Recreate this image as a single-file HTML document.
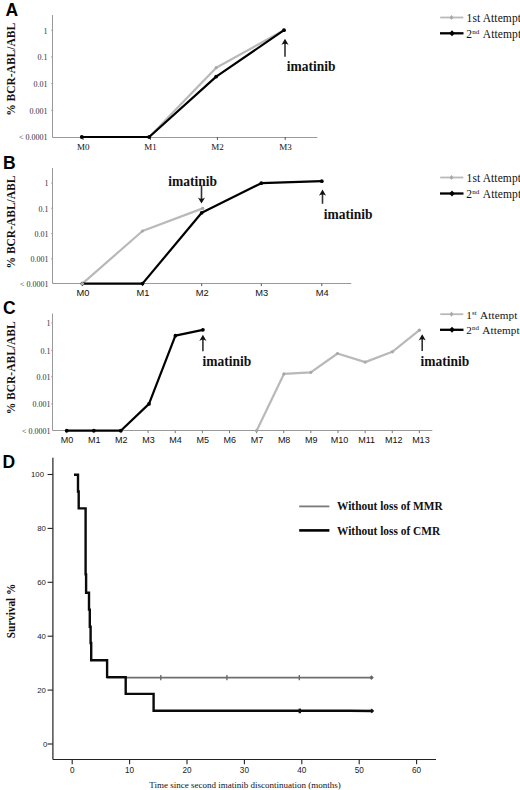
<!DOCTYPE html>
<html><head><meta charset="utf-8"><style>
html,body{margin:0;padding:0;background:#fff;}
body{width:520px;height:790px;overflow:hidden;}
svg{display:block;}
</style></head><body>
<svg width="520" height="790" viewBox="0 0 520 790">
<rect width="520" height="790" fill="#fff"/>
<text x="5.6" y="16.2" font-family='"Liberation Sans", sans-serif' font-size="17.5" font-weight="bold" text-anchor="start" fill="#000" >A</text>
<text transform="translate(15.0,69.4) rotate(-90) scale(0.9091,1)" x="0" y="0" font-family='"Liberation Serif", serif' font-size="12.65" font-weight="bold" text-anchor="middle" fill="#111">% BCR-ABL/ABL</text>
<line x1="52.5" y1="15" x2="52.5" y2="137.5" stroke="#999" stroke-width="1" />
<line x1="52.5" y1="137.5" x2="317.3" y2="137.5" stroke="#999" stroke-width="1" />
<line x1="51.0" y1="30.2" x2="52.5" y2="30.2" stroke="#999" stroke-width="0.8" />
<line x1="51.0" y1="56.9" x2="52.5" y2="56.9" stroke="#999" stroke-width="0.8" />
<line x1="51.0" y1="83.6" x2="52.5" y2="83.6" stroke="#999" stroke-width="0.8" />
<line x1="51.0" y1="110.3" x2="52.5" y2="110.3" stroke="#999" stroke-width="0.8" />
<line x1="83.0" y1="137" x2="83.0" y2="140" stroke="#555" stroke-width="1" />
<line x1="150.39999999999998" y1="137" x2="150.39999999999998" y2="140" stroke="#555" stroke-width="1" />
<line x1="217.39999999999998" y1="137" x2="217.39999999999998" y2="140" stroke="#555" stroke-width="1" />
<line x1="285.2" y1="137" x2="285.2" y2="140" stroke="#555" stroke-width="1" />
<text x="47.6" y="33.6" font-family='"Liberation Serif", serif' font-size="8" font-weight="normal" text-anchor="end" fill="#333" >1</text>
<text x="47.6" y="60.3" font-family='"Liberation Serif", serif' font-size="8" font-weight="normal" text-anchor="end" fill="#333" >0.1</text>
<text x="47.6" y="87.0" font-family='"Liberation Serif", serif' font-size="8" font-weight="normal" text-anchor="end" fill="#333" >0.01</text>
<text x="47.6" y="113.7" font-family='"Liberation Serif", serif' font-size="8" font-weight="normal" text-anchor="end" fill="#333" >0.001</text>
<text x="47.6" y="140.4" font-family='"Liberation Serif", serif' font-size="8" font-weight="normal" text-anchor="end" fill="#333" >&lt; 0.0001</text>
<text x="83.2" y="149.5" font-family='"Liberation Serif", serif' font-size="9" font-weight="normal" text-anchor="middle" fill="#111" >M0</text>
<text x="150.6" y="149.5" font-family='"Liberation Serif", serif' font-size="9" font-weight="normal" text-anchor="middle" fill="#111" >M1</text>
<text x="217.6" y="149.5" font-family='"Liberation Serif", serif' font-size="9" font-weight="normal" text-anchor="middle" fill="#111" >M2</text>
<text x="285.4" y="149.5" font-family='"Liberation Serif", serif' font-size="9" font-weight="normal" text-anchor="middle" fill="#111" >M3</text>
<polyline points="81.8,137 149.2,137 216.2,67.7 284.0,30.2" fill="none" stroke="#b9b9b9" stroke-width="2.2" stroke-linejoin="round" stroke-linecap="round"/>
<circle cx="81.8" cy="137" r="1.6" fill="#a8a8a8"/>
<circle cx="149.2" cy="137" r="1.6" fill="#a8a8a8"/>
<circle cx="216.2" cy="67.7" r="1.6" fill="#a8a8a8"/>
<circle cx="284.0" cy="30.2" r="1.6" fill="#a8a8a8"/>
<polyline points="81.8,137 149.2,137 216.2,76.6 284.0,30.2" fill="none" stroke="#000" stroke-width="2.2" stroke-linejoin="round" stroke-linecap="round"/>
<circle cx="81.8" cy="137" r="1.9" fill="#000"/>
<circle cx="149.2" cy="137" r="1.9" fill="#000"/>
<circle cx="216.2" cy="76.6" r="1.9" fill="#000"/>
<circle cx="284.0" cy="30.2" r="1.9" fill="#000"/>
<line x1="285.0" y1="56.7" x2="285.0" y2="43.040000000000006" stroke="#333" stroke-width="1.6" />
<path d="M285.0,38.7 L288.6,44.900000000000006 Q285.0,42.42 281.4,44.900000000000006 Z" fill="#111"/>
<text transform="translate(286.8,70.8) scale(0.8772,1)" x="0" y="0" font-family='"Liberation Serif", serif' font-size="15.39" font-weight="bold" text-anchor="start" fill="#111" >imatinib</text>
<line x1="440.2" y1="17.5" x2="463.3" y2="17.5" stroke="#b9b9b9" stroke-width="1.8" />
<path d="M451.5,14.9 L453.5,17.5 L451.5,20.1 L449.5,17.5 Z" fill="#aaa"/>
<line x1="440.0" y1="33.3" x2="463.5" y2="33.3" stroke="#000" stroke-width="2.3" />
<path d="M452.0,30.299999999999997 L454.8,33.3 L452.0,36.3 L449.2,33.3 Z" fill="#000"/>
<text x="466.6" y="21.8" font-family='"Liberation Serif", serif' font-size="11.5" letter-spacing="0.1" fill="#111">1st Attempt</text>
<text x="466.3" y="37.8" font-family='"Liberation Serif", serif' font-size="11.5" letter-spacing="0.1" fill="#111">2<tspan font-size="7.1" dy="-4">nd</tspan><tspan dy="4" dx="1"> Attempt</tspan></text>
<text x="3.0" y="168.6" font-family='"Liberation Sans", sans-serif' font-size="17.5" font-weight="bold" text-anchor="start" fill="#000" >B</text>
<text transform="translate(15.2,222) rotate(-90) scale(0.9091,1)" x="0" y="0" font-family='"Liberation Serif", serif' font-size="12.65" font-weight="bold" text-anchor="middle" fill="#111">% BCR-ABL/ABL</text>
<line x1="52.5" y1="168" x2="52.5" y2="283.5" stroke="#999" stroke-width="1" />
<line x1="52.5" y1="283.5" x2="351.3" y2="283.5" stroke="#999" stroke-width="1" />
<line x1="51.0" y1="183" x2="52.5" y2="183" stroke="#999" stroke-width="0.8" />
<line x1="51.0" y1="208.2" x2="52.5" y2="208.2" stroke="#999" stroke-width="0.8" />
<line x1="51.0" y1="233.6" x2="52.5" y2="233.6" stroke="#999" stroke-width="0.8" />
<line x1="51.0" y1="258.8" x2="52.5" y2="258.8" stroke="#999" stroke-width="0.8" />
<line x1="82.4" y1="283.6" x2="82.4" y2="286.1" stroke="#555" stroke-width="1" />
<line x1="142.5" y1="283.6" x2="142.5" y2="286.1" stroke="#555" stroke-width="1" />
<line x1="201.7" y1="283.6" x2="201.7" y2="286.1" stroke="#555" stroke-width="1" />
<line x1="261.3" y1="283.6" x2="261.3" y2="286.1" stroke="#555" stroke-width="1" />
<line x1="321.8" y1="283.6" x2="321.8" y2="286.1" stroke="#555" stroke-width="1" />
<text x="48.5" y="186.4" font-family='"Liberation Serif", serif' font-size="8" font-weight="normal" text-anchor="end" fill="#333" >1</text>
<text x="48.5" y="211.6" font-family='"Liberation Serif", serif' font-size="8" font-weight="normal" text-anchor="end" fill="#333" >0.1</text>
<text x="48.5" y="237.0" font-family='"Liberation Serif", serif' font-size="8" font-weight="normal" text-anchor="end" fill="#333" >0.01</text>
<text x="48.5" y="262.2" font-family='"Liberation Serif", serif' font-size="8" font-weight="normal" text-anchor="end" fill="#333" >0.001</text>
<text x="48.5" y="287.0" font-family='"Liberation Serif", serif' font-size="8" font-weight="normal" text-anchor="end" fill="#333" >&lt; 0.0001</text>
<text x="82.9" y="295.6" font-family='"Liberation Sans", sans-serif' font-size="9.3" font-weight="normal" text-anchor="middle" fill="#111" >M0</text>
<text x="143.0" y="295.6" font-family='"Liberation Sans", sans-serif' font-size="9.3" font-weight="normal" text-anchor="middle" fill="#111" >M1</text>
<text x="202.2" y="295.6" font-family='"Liberation Sans", sans-serif' font-size="9.3" font-weight="normal" text-anchor="middle" fill="#111" >M2</text>
<text x="261.8" y="295.6" font-family='"Liberation Sans", sans-serif' font-size="9.3" font-weight="normal" text-anchor="middle" fill="#111" >M3</text>
<text x="322.3" y="295.6" font-family='"Liberation Sans", sans-serif' font-size="9.3" font-weight="normal" text-anchor="middle" fill="#111" >M4</text>
<polyline points="82.4,283.6 142.5,231 202.7,208.4" fill="none" stroke="#b9b9b9" stroke-width="2.2" stroke-linejoin="round" stroke-linecap="round"/>
<circle cx="82.4" cy="283.6" r="1.6" fill="#a8a8a8"/>
<circle cx="142.5" cy="231" r="1.6" fill="#a8a8a8"/>
<circle cx="202.7" cy="208.4" r="1.6" fill="#a8a8a8"/>
<polyline points="82.4,283.6 142.5,283.6 201.7,212.8 261.3,183.2 321.8,181.2" fill="none" stroke="#000" stroke-width="2.2" stroke-linejoin="round" stroke-linecap="round"/>
<circle cx="82.4" cy="283.6" r="1.9" fill="#000"/>
<circle cx="142.5" cy="283.6" r="1.9" fill="#000"/>
<circle cx="201.7" cy="212.8" r="1.9" fill="#000"/>
<circle cx="261.3" cy="183.2" r="1.9" fill="#000"/>
<circle cx="321.8" cy="181.2" r="1.9" fill="#000"/>
<circle cx="82.4" cy="283.6" r="1.7" fill="#b0b0b0"/>
<line x1="201.5" y1="185.5" x2="201.5" y2="199.26" stroke="#333" stroke-width="1.6" />
<path d="M201.5,203.6 L205.1,197.4 Q201.5,199.88 197.9,197.4 Z" fill="#111"/>
<text transform="translate(168.3,185.9) scale(0.8772,1)" x="0" y="0" font-family='"Liberation Serif", serif' font-size="15.39" font-weight="bold" text-anchor="start" fill="#111" >imatinib</text>
<line x1="322.5" y1="203.8" x2="322.5" y2="193.84" stroke="#333" stroke-width="1.6" />
<path d="M322.5,189.5 L326.1,195.7 Q322.5,193.22 318.9,195.7 Z" fill="#111"/>
<text transform="translate(323.8,218.7) scale(0.8772,1)" x="0" y="0" font-family='"Liberation Serif", serif' font-size="15.39" font-weight="bold" text-anchor="start" fill="#111" >imatinib</text>
<line x1="440.2" y1="177.5" x2="463.3" y2="177.5" stroke="#b9b9b9" stroke-width="1.8" />
<path d="M451.5,174.9 L453.5,177.5 L451.5,180.1 L449.5,177.5 Z" fill="#aaa"/>
<line x1="440.0" y1="193.5" x2="463.5" y2="193.5" stroke="#000" stroke-width="2.3" />
<path d="M452.0,190.5 L454.8,193.5 L452.0,196.5 L449.2,193.5 Z" fill="#000"/>
<text x="466.6" y="181.8" font-family='"Liberation Serif", serif' font-size="11.5" letter-spacing="0.1" fill="#111">1st Attempt</text>
<text x="466.3" y="198.0" font-family='"Liberation Serif", serif' font-size="11.5" letter-spacing="0.1" fill="#111">2<tspan font-size="7.1" dy="-4">nd</tspan><tspan dy="4" dx="1"> Attempt</tspan></text>
<text x="3.0" y="314.2" font-family='"Liberation Sans", sans-serif' font-size="17.5" font-weight="bold" text-anchor="start" fill="#000" >C</text>
<text transform="translate(15.0,367.8) rotate(-90) scale(0.9091,1)" x="0" y="0" font-family='"Liberation Serif", serif' font-size="12.65" font-weight="bold" text-anchor="middle" fill="#111">% BCR-ABL/ABL</text>
<line x1="52.5" y1="313.5" x2="52.5" y2="430.5" stroke="#999" stroke-width="1" />
<line x1="52.5" y1="430.5" x2="432.3" y2="430.5" stroke="#999" stroke-width="1" />
<line x1="51.0" y1="323" x2="52.5" y2="323" stroke="#999" stroke-width="0.8" />
<line x1="51.0" y1="350.3" x2="52.5" y2="350.3" stroke="#999" stroke-width="0.8" />
<line x1="51.0" y1="376.8" x2="52.5" y2="376.8" stroke="#999" stroke-width="0.8" />
<line x1="51.0" y1="403.8" x2="52.5" y2="403.8" stroke="#999" stroke-width="0.8" />
<line x1="66.7" y1="430.7" x2="66.7" y2="433.2" stroke="#777" stroke-width="1" />
<line x1="93.83" y1="430.7" x2="93.83" y2="433.2" stroke="#777" stroke-width="1" />
<line x1="120.96000000000001" y1="430.7" x2="120.96000000000001" y2="433.2" stroke="#777" stroke-width="1" />
<line x1="148.09" y1="430.7" x2="148.09" y2="433.2" stroke="#777" stroke-width="1" />
<line x1="175.22" y1="430.7" x2="175.22" y2="433.2" stroke="#777" stroke-width="1" />
<line x1="202.35000000000002" y1="430.7" x2="202.35000000000002" y2="433.2" stroke="#777" stroke-width="1" />
<line x1="229.48000000000002" y1="430.7" x2="229.48000000000002" y2="433.2" stroke="#777" stroke-width="1" />
<line x1="256.61" y1="430.7" x2="256.61" y2="433.2" stroke="#777" stroke-width="1" />
<line x1="283.74" y1="430.7" x2="283.74" y2="433.2" stroke="#777" stroke-width="1" />
<line x1="310.87" y1="430.7" x2="310.87" y2="433.2" stroke="#777" stroke-width="1" />
<line x1="338.0" y1="430.7" x2="338.0" y2="433.2" stroke="#777" stroke-width="1" />
<line x1="365.13" y1="430.7" x2="365.13" y2="433.2" stroke="#777" stroke-width="1" />
<line x1="392.26" y1="430.7" x2="392.26" y2="433.2" stroke="#777" stroke-width="1" />
<line x1="419.39" y1="430.7" x2="419.39" y2="433.2" stroke="#777" stroke-width="1" />
<text x="50.5" y="326.4" font-family='"Liberation Serif", serif' font-size="8" font-weight="normal" text-anchor="end" fill="#333" >1</text>
<text x="50.5" y="353.7" font-family='"Liberation Serif", serif' font-size="8" font-weight="normal" text-anchor="end" fill="#333" >0.1</text>
<text x="50.5" y="380.2" font-family='"Liberation Serif", serif' font-size="8" font-weight="normal" text-anchor="end" fill="#333" >0.01</text>
<text x="50.5" y="407.2" font-family='"Liberation Serif", serif' font-size="8" font-weight="normal" text-anchor="end" fill="#333" >0.001</text>
<text x="50.5" y="434.09999999999997" font-family='"Liberation Serif", serif' font-size="8" font-weight="normal" text-anchor="end" fill="#333" >&lt; 0.0001</text>
<text x="67.10000000000001" y="442.8" font-family='"Liberation Sans", sans-serif' font-size="9" font-weight="normal" text-anchor="middle" fill="#111" >M0</text>
<text x="94.23" y="442.8" font-family='"Liberation Sans", sans-serif' font-size="9" font-weight="normal" text-anchor="middle" fill="#111" >M1</text>
<text x="121.36000000000001" y="442.8" font-family='"Liberation Sans", sans-serif' font-size="9" font-weight="normal" text-anchor="middle" fill="#111" >M2</text>
<text x="148.49" y="442.8" font-family='"Liberation Sans", sans-serif' font-size="9" font-weight="normal" text-anchor="middle" fill="#111" >M3</text>
<text x="175.62" y="442.8" font-family='"Liberation Sans", sans-serif' font-size="9" font-weight="normal" text-anchor="middle" fill="#111" >M4</text>
<text x="202.75000000000003" y="442.8" font-family='"Liberation Sans", sans-serif' font-size="9" font-weight="normal" text-anchor="middle" fill="#111" >M5</text>
<text x="229.88000000000002" y="442.8" font-family='"Liberation Sans", sans-serif' font-size="9" font-weight="normal" text-anchor="middle" fill="#111" >M6</text>
<text x="257.01" y="442.8" font-family='"Liberation Sans", sans-serif' font-size="9" font-weight="normal" text-anchor="middle" fill="#111" >M7</text>
<text x="284.14" y="442.8" font-family='"Liberation Sans", sans-serif' font-size="9" font-weight="normal" text-anchor="middle" fill="#111" >M8</text>
<text x="311.27" y="442.8" font-family='"Liberation Sans", sans-serif' font-size="9" font-weight="normal" text-anchor="middle" fill="#111" >M9</text>
<text x="339.5" y="442.8" font-family='"Liberation Sans", sans-serif' font-size="9" font-weight="normal" text-anchor="middle" fill="#111" >M10</text>
<text x="366.63" y="442.8" font-family='"Liberation Sans", sans-serif' font-size="9" font-weight="normal" text-anchor="middle" fill="#111" >M11</text>
<text x="393.76" y="442.8" font-family='"Liberation Sans", sans-serif' font-size="9" font-weight="normal" text-anchor="middle" fill="#111" >M12</text>
<text x="420.89" y="442.8" font-family='"Liberation Sans", sans-serif' font-size="9" font-weight="normal" text-anchor="middle" fill="#111" >M13</text>
<polyline points="256.61,430.7 283.9,373.9 310.8,372.3 337.5,353.5 365.2,362.1 392.3,351.8 419.4,330.2" fill="none" stroke="#b9b9b9" stroke-width="2.2" stroke-linejoin="round" stroke-linecap="round"/>
<circle cx="256.61" cy="430.7" r="1.6" fill="#a8a8a8"/>
<circle cx="283.9" cy="373.9" r="1.6" fill="#a8a8a8"/>
<circle cx="310.8" cy="372.3" r="1.6" fill="#a8a8a8"/>
<circle cx="337.5" cy="353.5" r="1.6" fill="#a8a8a8"/>
<circle cx="365.2" cy="362.1" r="1.6" fill="#a8a8a8"/>
<circle cx="392.3" cy="351.8" r="1.6" fill="#a8a8a8"/>
<circle cx="419.4" cy="330.2" r="1.6" fill="#a8a8a8"/>
<polyline points="66.7,430.7 93.83,430.7 120.8,430.7 149,403.9 175.4,335.7 202.9,329.8" fill="none" stroke="#000" stroke-width="2.2" stroke-linejoin="round" stroke-linecap="round"/>
<circle cx="66.7" cy="430.7" r="1.9" fill="#000"/>
<circle cx="93.83" cy="430.7" r="1.9" fill="#000"/>
<circle cx="120.8" cy="430.7" r="1.9" fill="#000"/>
<circle cx="149" cy="403.9" r="1.9" fill="#000"/>
<circle cx="175.4" cy="335.7" r="1.9" fill="#000"/>
<circle cx="202.9" cy="329.8" r="1.9" fill="#000"/>
<line x1="202.9" y1="351.3" x2="202.9" y2="339.14" stroke="#333" stroke-width="1.6" />
<path d="M202.9,334.8 L206.5,341.0 Q202.9,338.52000000000004 199.3,341.0 Z" fill="#111"/>
<text transform="translate(202.4,366.2) scale(0.8772,1)" x="0" y="0" font-family='"Liberation Serif", serif' font-size="15.39" font-weight="bold" text-anchor="start" fill="#111" >imatinib</text>
<line x1="422.2" y1="351" x2="422.2" y2="338.53999999999996" stroke="#333" stroke-width="1.6" />
<path d="M422.2,334.2 L425.8,340.4 Q422.2,337.92 418.59999999999997,340.4 Z" fill="#111"/>
<text transform="translate(420.6,365.5) scale(0.8772,1)" x="0" y="0" font-family='"Liberation Serif", serif' font-size="15.39" font-weight="bold" text-anchor="start" fill="#111" >imatinib</text>
<line x1="440.2" y1="314.2" x2="463.3" y2="314.2" stroke="#b9b9b9" stroke-width="1.8" />
<path d="M451.5,311.59999999999997 L453.5,314.2 L451.5,316.8 L449.5,314.2 Z" fill="#aaa"/>
<line x1="440.0" y1="329.8" x2="463.5" y2="329.8" stroke="#000" stroke-width="2.3" />
<path d="M452.0,326.8 L454.8,329.8 L452.0,332.8 L449.2,329.8 Z" fill="#000"/>
<text x="466.3" y="318.5" font-family='"Liberation Serif", serif' font-size="11.2" letter-spacing="0.1" fill="#111">1<tspan font-size="6.9" dy="-4">st</tspan><tspan dy="4" dx="1"> Attempt</tspan></text>
<text x="466.3" y="334.3" font-family='"Liberation Serif", serif' font-size="11.2" letter-spacing="0.1" fill="#111">2<tspan font-size="6.9" dy="-4">nd</tspan><tspan dy="4" dx="1"> Attempt</tspan></text>
<text x="2.5" y="467.5" font-family='"Liberation Sans", sans-serif' font-size="17.5" font-weight="bold" text-anchor="start" fill="#000" >D</text>
<line x1="52.9" y1="457.8" x2="52.9" y2="759.5" stroke="#222" stroke-width="1.2" />
<line x1="52.9" y1="759.5" x2="436" y2="759.5" stroke="#222" stroke-width="1.2" />
<line x1="47.6" y1="744.0" x2="52.9" y2="744.0" stroke="#222" stroke-width="1.1" />
<text x="47.3" y="746.8" font-family='"Liberation Sans", sans-serif' font-size="7.8" font-weight="normal" text-anchor="end" fill="#222" >0</text>
<line x1="47.6" y1="690.1" x2="52.9" y2="690.1" stroke="#222" stroke-width="1.1" />
<text x="45.9" y="692.9" font-family='"Liberation Sans", sans-serif' font-size="7.8" font-weight="normal" text-anchor="end" fill="#222" >20</text>
<line x1="47.6" y1="636.2" x2="52.9" y2="636.2" stroke="#222" stroke-width="1.1" />
<text x="45.9" y="639.0" font-family='"Liberation Sans", sans-serif' font-size="7.8" font-weight="normal" text-anchor="end" fill="#222" >40</text>
<line x1="47.6" y1="582.3" x2="52.9" y2="582.3" stroke="#222" stroke-width="1.1" />
<text x="45.9" y="585.0999999999999" font-family='"Liberation Sans", sans-serif' font-size="7.8" font-weight="normal" text-anchor="end" fill="#222" >60</text>
<line x1="47.6" y1="528.4" x2="52.9" y2="528.4" stroke="#222" stroke-width="1.1" />
<text x="45.9" y="531.1999999999999" font-family='"Liberation Sans", sans-serif' font-size="7.8" font-weight="normal" text-anchor="end" fill="#222" >80</text>
<line x1="47.6" y1="474.5" x2="52.9" y2="474.5" stroke="#222" stroke-width="1.1" />
<text x="44.0" y="477.3" font-family='"Liberation Sans", sans-serif' font-size="7.8" font-weight="normal" text-anchor="end" fill="#222" >100</text>
<line x1="72.2" y1="759.2" x2="72.2" y2="764.2" stroke="#222" stroke-width="1.1" />
<text x="72.2" y="773" font-family='"Liberation Sans", sans-serif' font-size="8.2" font-weight="normal" text-anchor="middle" fill="#222" >0</text>
<line x1="129.60000000000002" y1="759.2" x2="129.60000000000002" y2="764.2" stroke="#222" stroke-width="1.1" />
<text x="129.60000000000002" y="773" font-family='"Liberation Sans", sans-serif' font-size="8.2" font-weight="normal" text-anchor="middle" fill="#222" >10</text>
<line x1="187.0" y1="759.2" x2="187.0" y2="764.2" stroke="#222" stroke-width="1.1" />
<text x="187.0" y="773" font-family='"Liberation Sans", sans-serif' font-size="8.2" font-weight="normal" text-anchor="middle" fill="#222" >20</text>
<line x1="244.40000000000003" y1="759.2" x2="244.40000000000003" y2="764.2" stroke="#222" stroke-width="1.1" />
<text x="244.40000000000003" y="773" font-family='"Liberation Sans", sans-serif' font-size="8.2" font-weight="normal" text-anchor="middle" fill="#222" >30</text>
<line x1="301.8" y1="759.2" x2="301.8" y2="764.2" stroke="#222" stroke-width="1.1" />
<text x="301.8" y="773" font-family='"Liberation Sans", sans-serif' font-size="8.2" font-weight="normal" text-anchor="middle" fill="#222" >40</text>
<line x1="359.2" y1="759.2" x2="359.2" y2="764.2" stroke="#222" stroke-width="1.1" />
<text x="359.2" y="773" font-family='"Liberation Sans", sans-serif' font-size="8.2" font-weight="normal" text-anchor="middle" fill="#222" >50</text>
<line x1="416.6" y1="759.2" x2="416.6" y2="764.2" stroke="#222" stroke-width="1.1" />
<text x="416.6" y="773" font-family='"Liberation Sans", sans-serif' font-size="8.2" font-weight="normal" text-anchor="middle" fill="#222" >60</text>
<text x="245" y="787.8" font-family='"Liberation Serif", serif' font-size="9" font-weight="normal" text-anchor="middle" fill="#111" >Time since second imatinib discontinuation (months)</text>
<text transform="translate(15.0,611) rotate(-90) scale(0.9091,1)" x="0" y="0" font-family='"Liberation Serif", serif' font-size="12.32" font-weight="bold" text-anchor="middle" fill="#111">Survival %</text>
<path d="M107,677.6 H372.5" fill="none" stroke="#6e6e6e" stroke-width="1.9"/>
<line x1="160.8" y1="675" x2="160.8" y2="680.2" stroke="#666" stroke-width="1.3" />
<line x1="226.9" y1="675" x2="226.9" y2="680.2" stroke="#666" stroke-width="1.3" />
<line x1="299.3" y1="675" x2="299.3" y2="680.2" stroke="#666" stroke-width="1.3" />
<path d="M369.5,677.6 L371.3,675.2 L373.8,677.6 L371.3,680.1 Z" fill="#666"/>
<path d="M74,474.8 H78 V491.5 H78.7 V508.4 H85.6 V574.4 H86.1 V592.7 H89 V609.6 H89.8 V626.8 H90.6 V643 H91.2 V660.2 H107.1 V677.1 H125.7 V693.9 H153.6 V710.8 H350 L372,711.0" fill="none" stroke="#0a0a0a" stroke-width="2.4" stroke-linejoin="miter"/>
<path d="M350,710.8 L372,711.2 L372,710.4 Z" fill="none" stroke="#0a0a0a" stroke-width="0.8"/>
<rect x="298.6" y="708.6" width="2.4" height="4.6" fill="#111"/>
<path d="M369.6,711 L371.8,708.6 L374.2,711 L371.8,713.2 Z" fill="#111"/>
<line x1="299.2" y1="506.4" x2="329.4" y2="506.4" stroke="#7a7a7a" stroke-width="1.8" />
<text transform="translate(337,510.3) scale(0.9259,1)" x="0" y="0" font-family='"Liberation Serif", serif' font-size="12.31" font-weight="bold" text-anchor="start" fill="#111" >Without loss of MMR</text>
<line x1="299.2" y1="530.4" x2="329.4" y2="530.4" stroke="#000" stroke-width="2.6" />
<text transform="translate(337,534.5) scale(0.9259,1)" x="0" y="0" font-family='"Liberation Serif", serif' font-size="12.31" font-weight="bold" text-anchor="start" fill="#111" >Without loss of CMR</text>
</svg>
</body></html>
